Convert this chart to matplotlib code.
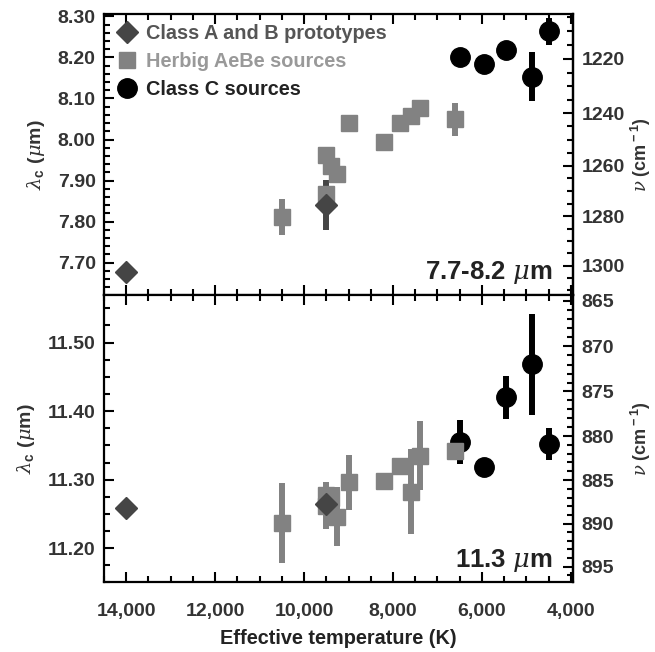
import numpy as np
import matplotlib
matplotlib.use("Agg")
import matplotlib.pyplot as plt
from matplotlib.lines import Line2D
from matplotlib.ticker import MultipleLocator, FixedLocator, FuncFormatter

plt.rcParams['font.family'] = ['Liberation Sans', 'DejaVu Sans']
plt.rcParams['font.weight'] = 'bold'
plt.rcParams['axes.labelweight'] = 'bold'
plt.rcParams['mathtext.fontset'] = 'custom'
plt.rcParams['mathtext.rm'] = 'Liberation Sans:bold'
plt.rcParams['mathtext.bf'] = 'Liberation Sans:bold'
plt.rcParams['mathtext.it'] = 'DejaVu Serif:italic:normal'

# effective temperatures (K)
classAB_T = [14000, 9500]
herbig_T = [10500, 9500, 9500, 9400, 9250, 9000, 8200, 7850, 7600, 7400, 6600]
classC_T = [6500, 5950, 5450, 4870, 4500]

# 7.7-8.2 micron band centroid
classAB_77 = [7.676, 7.841]
classAB_77_err = [0.0, 0.061]
herbig_77 = [7.811, 7.866, 7.962, 7.935, 7.915, 8.041, 7.993, 8.041, 8.057, 8.078, 8.049]
herbig_77_err = [0.043, 0.0, 0.0, 0.0, 0.0, 0.0, 0.0, 0.0, 0.0, 0.0, 0.041]
classC_77 = [8.200, 8.185, 8.219, 8.153, 8.264]
classC_77_err = [0.0, 0.0, 0.0, 0.06, 0.033]

# 11.3 micron band centroid
classAB_113 = [11.258, 11.265]
classAB_113_err = [0.0, 0.0]
herbig_113 = [11.237, 11.262, 11.278, 11.273, 11.246, 11.296, 11.298, 11.320, 11.282, 11.335, 11.342]
herbig_113_err = [0.058, 0.034, 0.0, 0.0, 0.043, 0.040, 0.0, 0.0, 0.062, 0.050, 0.0]
classC_113 = [11.355, 11.319, 11.420, 11.468, 11.352]
classC_113_err = [0.032, 0.0, 0.031, 0.074, 0.024]

xticks = [14000, 12000, 10000, 8000, 6000, 4000]
nu_ticks_77 = [1220, 1240, 1260, 1280, 1300]
nu_ticks_113 = [865, 870, 875, 880, 885, 890, 895]

c_ab = '#454545'
c_hb = '#828282'
c_c = '#000000'
tcol = '#333333'


def inv(x):
    x = np.array(x, dtype=float)
    near_zero = np.isclose(x, 0)
    x[near_zero] = np.inf
    x[~near_zero] = 1e4 / x[~near_zero]
    return x


fig = plt.figure(figsize=(6.55, 6.52), dpi=100)
ax1 = fig.add_axes([0.1588, 0.5483, 0.7160, 0.4302])
ax2 = fig.add_axes([0.1588, 0.1066, 0.7160, 0.4417])

panels = [
    (ax1, classAB_77, classAB_77_err, herbig_77, herbig_77_err, classC_77, classC_77_err,
     (7.622, 8.306), 0.1, 0.02, nu_ticks_77, np.arange(1205, 1311, 5), r'7.7-8.2 $\mathit{\mu}$m'),
    (ax2, classAB_113, classAB_113_err, herbig_113, herbig_113_err, classC_113, classC_113_err,
     (11.150, 11.570), 0.1, 0.025, nu_ticks_113, np.arange(865, 897, 1), r'11.3 $\mathit{\mu}$m'),
]

for ax, ab, ab_e, hb, hb_e, cc, cc_e, ylim, ymaj, ymin, nmaj, nmin, lab in panels:
    ax.errorbar(classC_T, cc, yerr=cc_e, fmt='o', color=c_c, ms=14, elinewidth=4.3, capsize=0)
    ax.errorbar(herbig_T, hb, yerr=hb_e, fmt='s', color=c_hb, ms=12, elinewidth=4.3, capsize=0)
    ax.errorbar(classAB_T, ab, yerr=ab_e, fmt='D', color=c_ab, ms=11, elinewidth=4.3, capsize=0)
    ax.set_xlim(14500, 3950)
    ax.set_ylim(*ylim)
    ax.xaxis.set_major_locator(MultipleLocator(2000))
    ax.xaxis.set_minor_locator(MultipleLocator(500))
    ax.yaxis.set_major_locator(MultipleLocator(ymaj))
    ax.yaxis.set_minor_locator(MultipleLocator(ymin))
    ax.yaxis.set_major_formatter(FuncFormatter(lambda v, p: '%.2f' % v))
    ax.tick_params(which='both', direction='in', top=True, right=False, width=1.5,
                   labelsize=14, labelcolor=tcol, pad=6)
    ax.tick_params(axis='x', pad=15)
    ax.tick_params(which='major', length=7)
    ax.tick_params(which='minor', length=4)
    for sp in ax.spines.values():
        sp.set_linewidth(1.6)
    ax.set_ylabel(r'$\mathit{\lambda}_{\rm c}$ ($\mathit{\mu}$m)', fontsize=14, color=tcol, labelpad=8)
    ax.text(0.955, 0.03, lab, transform=ax.transAxes, ha='right', va='bottom',
            fontsize=18.5, color='#222222')

    sec = ax.secondary_yaxis('right', functions=(inv, inv))
    sec.yaxis.set_major_locator(FixedLocator(nmaj))
    sec.yaxis.set_minor_locator(FixedLocator(nmin))
    sec.yaxis.set_major_formatter(FuncFormatter(lambda v, p: '%d' % round(v)))
    sec.tick_params(which='both', direction='in', width=1.5, labelsize=14,
                    labelcolor=tcol, pad=6)
    sec.tick_params(which='major', length=7)
    sec.tick_params(which='minor', length=4)
    sec.spines['right'].set_linewidth(1.6)
    sec.set_ylabel(r'$\mathit{\nu}$ (cm$^{\rm -1}$)', fontsize=13, color=tcol)
    sec.yaxis.set_label_coords(1.12, 0.5, transform=ax.transAxes)

ax1.tick_params(labelbottom=False)
ax2.set_xticks(xticks)
ax2.set_xticklabels(['{:,}'.format(t) for t in xticks])
ax2.set_xlabel('Effective temperature (K)', fontsize=14.3, color='#222222', labelpad=6)

handles = [
    Line2D([], [], marker='D', color=c_ab, ls='none', ms=11),
    Line2D([], [], marker='s', color=c_hb, ls='none', ms=12),
    Line2D([], [], marker='o', color=c_c, ls='none', ms=14),
]
labels = ['Class A and B prototypes', 'Herbig AeBe sources', 'Class C sources']
leg = ax1.legend(handles, labels, loc='upper left', bbox_to_anchor=(0.0, 1.01), frameon=False,
                 fontsize=14.3, handlelength=1.0, handletextpad=0.45, labelspacing=0.46,
                 borderaxespad=0.1, borderpad=0.55)
for t, c in zip(leg.get_texts(), ['#555555', '#999999', '#222222']):
    t.set_color(c)

fig.savefig('out.png', dpi=100)
